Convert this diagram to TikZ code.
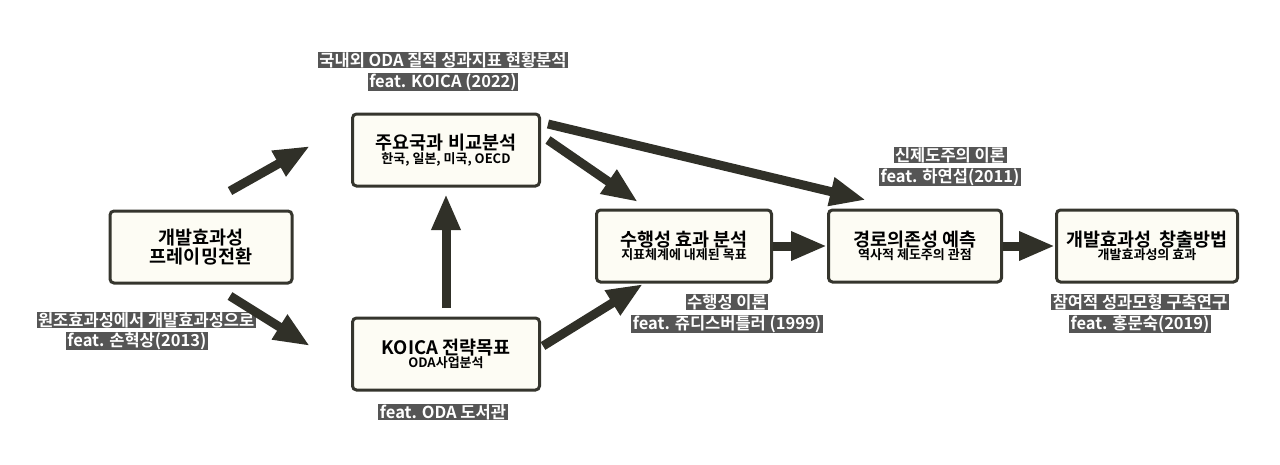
\documentclass[tikz,border=0pt]{standalone}
\usepackage{fontspec}
\setmainfont{Noto Sans CJK KR}[BoldFont={Noto Sans CJK KR Bold}]
\usetikzlibrary{arrows.meta}
\definecolor{boxfill}{HTML}{FDFCF4}
\definecolor{boxline}{HTML}{35352D}
\definecolor{labbg}{HTML}{555555}
\tikzset{
 box/.style={draw=boxline,line width=3pt,fill=boxfill,rounded corners=4pt,minimum width=#1,minimum height=72pt,align=center,inner sep=2pt},
 box/.default=187pt,
 lab/.style={fill=labbg,text=white,inner xsep=1.5pt,inner ysep=0.5pt,font=\bfseries\fontsize{16.5}{19}\selectfont},
 big/.style={draw=boxline!90!black,line width=9pt,-{Triangle[length=36pt,width=27pt]}},
}
\newcommand{\bt}[2]{{\bfseries\fontsize{18.5}{22}\selectfont #1}\\[0pt]{\bfseries\fontsize{13}{15}\selectfont #2}}
\begin{document}
\begin{tikzpicture}[x=1pt,y=-1pt]
\useasboundingbox (0,0) rectangle (1280,464);
\node[box=182pt] (A) at (201,247) {{\bfseries\fontsize{18.5}{25}\selectfont 개발효과성}\\{\bfseries\fontsize{18.5}{25}\selectfont 프레이밍전환}};
\node[box] (B) at (446,150) {\bt{주요국과 비교분석}{한국, 일본, 미국, OECD}};
\node[box] (C) at (446,354) {\bt{KOICA 전략목표}{ODA사업분석}};
\node[box=175pt] (D) at (684,246) {\bt{수행성 효과 분석}{지표체계에 내제된 목표}};
\node[box=173pt] (E) at (915,246) {\bt{경로의존성 예측}{역사적 제도주의 관점}};
\node[box=181pt] (F) at (1147,246) {\bt{개발효과성\ \ 창출방법}{개발효과성의 효과}};
\node[lab] (l1a) at (443,60) {국내외 ODA 질적 성과지표 현황분석};
\node[lab] (l1b) at (443,82) {feat. KOICA (2022)};
\node[lab,anchor=east] (l2a) at (256,320) {원조효과성에서 개발효과성으로};
\node[lab,anchor=east] (l2b) at (208,341) {feat. 손혁상(2013)};
\node[lab] (l3) at (443,412) {feat. ODA 도서관};
\node[lab] (l4a) at (727,302) {수행성 이론};
\node[lab] (l4b) at (727,324) {feat. 쥬디스버틀러 (1999)};
\node[lab] (l5a) at (950,155) {신제도주의 이론};
\node[lab] (l5b) at (950,177) {feat. 하연섭(2011)};
\node[lab] (l6a) at (1140,302) {참여적 성과모형 구축연구};
\node[lab] (l6b) at (1140,324) {feat. 홍문숙(2019)};
\coordinate (a1) at (230,191); \coordinate (b1) at (310,146);
\coordinate (a2) at (230,296); \coordinate (c2) at (310,346);
\coordinate (c3) at (446,308); \coordinate (b3) at (446,194);
\coordinate (b4) at (548,140); \coordinate (d4) at (638,202);
\coordinate (b5) at (548,124); \coordinate (e5) at (866,200);
\coordinate (c6) at (543,346); \coordinate (d6) at (643,284);
\draw[big] (a1) -- (b1);
\draw[big] (a2) -- (c2);
\draw[big] (c3) -- (b3);
\draw[big] (b4) -- (d4);
\draw[big] (b5) -- (e5);
\draw[big] (c6) -- (d6);
\draw[big] (D.east) -- (E.west);
\draw[big] (E.east) -- (F.west);
\end{tikzpicture}
\end{document}
